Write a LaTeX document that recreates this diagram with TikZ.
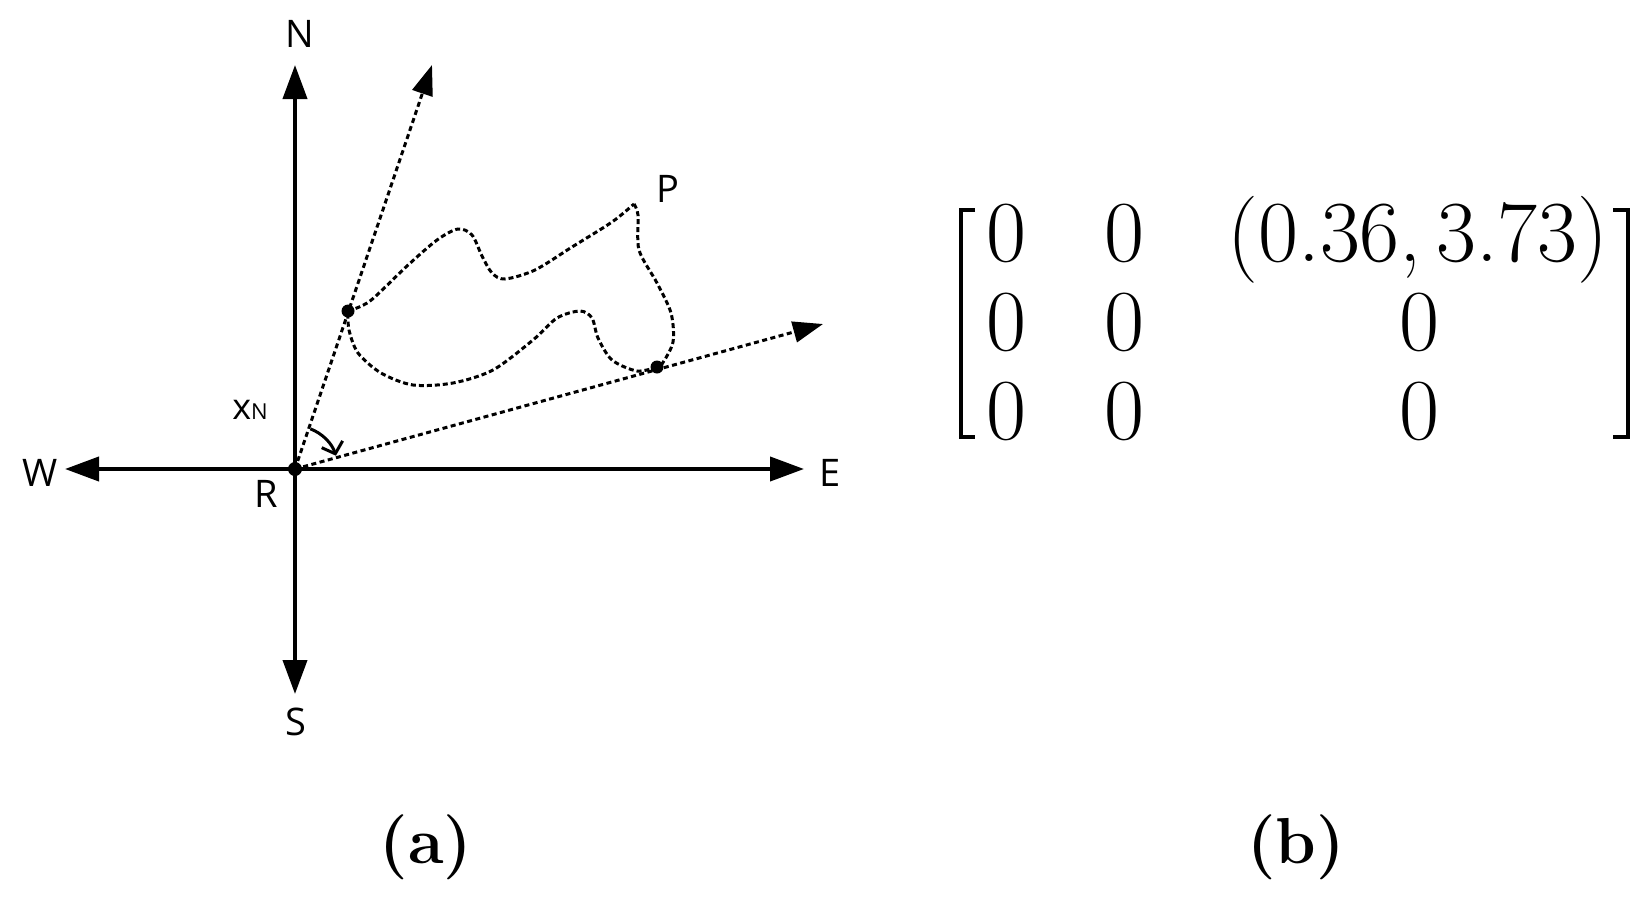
\documentclass[tikz,border=0pt]{standalone}
\usepackage{amsmath}
\usepackage{fontspec}
\newfontfamily\compassfont{Open Sans}
\usetikzlibrary{calc,positioning,arrows.meta}

\begin{document}
\begin{tikzpicture}[x=1pt,y=-1pt,
  axis/.style={line width=4pt,-{Triangle[length=34pt,width=24pt]}},
  ray/.style={line width=3pt,dash pattern=on 5pt off 3.5pt,-{Triangle[length=30pt,width=21pt]}},
  loopline/.style={line width=3pt,dash pattern=on 5pt off 3pt},
  lbl/.style={font=\compassfont\fontsize{38}{38}\selectfont,inner sep=0pt},
  entry/.style={font=\fontsize{87}{87}\selectfont,inner sep=0pt,anchor=base},
  caption/.style={font=\bfseries\fontsize{65}{65}\selectfont,inner sep=0pt}]
\useasboundingbox (0,0) rectangle (1648,902);
\coordinate (R) at (295,469);
% compass
\foreach \n/\tx/\ty/\lx/\ly in {N/295/65/300/34,S/295/694/296/722,W/65/469/40/473,E/804/469/830/473} {
  \coordinate (\n tip) at (\tx,\ty);
  \node[lbl] (\n) at (\lx,\ly) {\n};
  \draw[axis] (R) -- (\n tip);
}
\node[lbl] (Rl) at (266,494) {R};
\node[lbl,font=\compassfont\fontsize{36}{36}\selectfont] (xn) at (250,410) {x{\fontsize{22}{22}\selectfont N}};
\node[lbl] (P) at (668,189) {P};
% rays and path
\coordinate (A) at (348,311);
\coordinate (B) at (657,367);
\coordinate (ray1) at (432,65);
\coordinate (ray2) at (823,324);
\draw[ray] (R) -- (ray1);
\draw[ray] (R) -- (ray2);
\draw[loopline] plot[smooth] coordinates {(A) (370,301) (407,266) (437,240) (458,229) (472,235) (482,256) (492,273) (505,279) (535,270) (572,247) (612,222) (634,204)};
\draw[loopline] plot[smooth] coordinates {(634,204) (638,215) (639,250) (657,283) (671,313) (673,342) (662,364) (B)};
\draw[loopline] plot[smooth] coordinates {(B) (637,371) (612,360) (598,338) (592,318) (580,311) (557,318) (533,340) (493,370) (453,383) (413,385) (381,373) (358,353) (349,330) (A)};
\fill (R) circle[radius=7];
\fill (A) circle[radius=6.5];
\fill (B) circle[radius=6.5];
\draw[line width=3pt,-{Straight Barb[length=10pt,width=22pt]}] ($(R)+(-69:43)$) arc[start angle=-69,end angle=-18,radius=43];
% matrix
\foreach \r/\y in {1/261,2/350,3/439} {
  \node[entry] (m\r1) at (1006,\y) {0};
  \node[entry] (m\r2) at (1124,\y) {0};
}
\node[entry] (m13) at (1418,261) {(0.36,\,3.73)};
\node[entry] (m23) at (1419,350) {0};
\node[entry] (m33) at (1419,439) {0};
\draw[line width=4pt] (975,210) -- (961,210) -- (961,437) -- (975,437);
\draw[line width=4pt] (1613,210) -- (1628,210) -- (1628,437) -- (1613,437);
\node[caption] (capa) at (426,847) {(a)};
\node[caption] (capb) at (1296,847) {(b)};
\end{tikzpicture}
\end{document}
